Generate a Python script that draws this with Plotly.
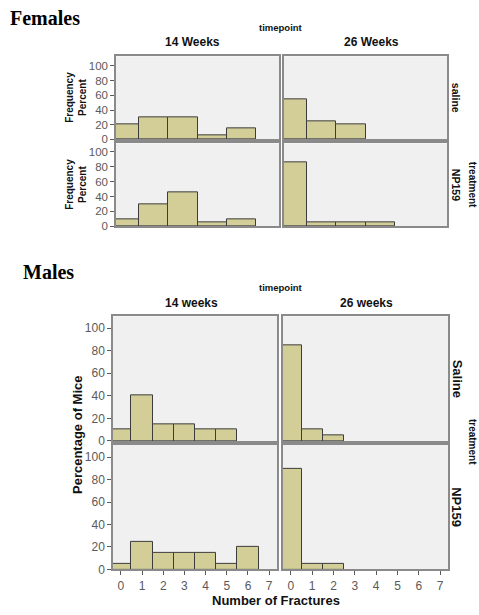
import plotly.graph_objects as go

W, H = 479, 615

# ---------------- data ----------------
fem_bins = [0, 1, 2, 3, 4]
fem_14w_saline = [20, 30, 30, 5, 15]
fem_26w_saline = [55, 25, 20, 0, 0]
fem_14w_np159 = [10, 30, 45, 5, 10]
fem_26w_np159 = [85, 5, 5, 5, 0]

male_bins = [0, 1, 2, 3, 4, 5, 6]
male_14w_saline = [10, 40, 15, 15, 10, 10, 0]
male_26w_saline = [85, 10, 5, 0, 0, 0, 0]
male_14w_np159 = [5, 25, 15, 15, 15, 5, 20]
male_26w_np159 = [90, 5, 5, 0, 0, 0, 0]

fem_cols = ["14 Weeks", "26 Weeks"]
fem_rows = ["saline", "NP159"]
male_cols = ["14 weeks", "26 weeks"]
male_rows = ["Saline", "NP159"]
y_ticks = [0, 20, 40, 60, 80, 100]
x_ticks = [0, 1, 2, 3, 4, 5, 6, 7]

# ---------------- styling ----------------
BAR = "#d3ce97"
EDGE = "#3c3c3c"
BORDER = "#8a8a8a"
TICKC = "#5a5a5a"
SANS = "Liberation Sans, Arial, sans-serif"
SERIF = "Liberation Serif, Times New Roman, serif"


def px_x(v):
    return v / W


def px_y(v):
    return 1 - v / H


fig = go.Figure()

panels = [
    # (values, bins, x px range, y px range, xrange, yrange, show_y, show_x)
    (fem_14w_saline, fem_bins, (116, 279), (57, 141), [-0.3, 5.3], [0, 113], True, False),
    (fem_26w_saline, fem_bins, (284, 447), (57, 141), [-0.3, 5.3], [0, 113], False, False),
    (fem_14w_np159, fem_bins, (116, 279), (145, 229), [-0.3, 5.3], [0, 111], True, False),
    (fem_26w_np159, fem_bins, (284, 447), (145, 229), [-0.3, 5.3], [0, 111], False, False),
    (male_14w_saline, male_bins, (113, 277), (320, 446), [-0.37, 7.37], [0, 110.5], True, False),
    (male_26w_saline, male_bins, (283, 448), (320, 446), [-0.37, 7.37], [0, 110.5], False, False),
    (male_14w_np159, male_bins, (113, 277), (450, 576), [-0.37, 7.37], [0, 111], True, True),
    (male_26w_np159, male_bins, (283, 448), (450, 576), [-0.37, 7.37], [0, 111], False, True),
]

layout_axes = {}
for i, (vals, bins, xr, yr, xrange_, yrange_, show_y, show_x) in enumerate(panels):
    n = i + 1
    xa = "x" if n == 1 else f"x{n}"
    ya = "y" if n == 1 else f"y{n}"
    # empty bins draw nothing (as in the reference)
    bx = [b for b, v in zip(bins, vals) if v > 0]
    by = [v for v in vals if v > 0]
    fig.add_trace(go.Bar(
        x=bx, y=by, width=1,
        marker=dict(color=BAR, line=dict(color=EDGE, width=1)),
        xaxis=xa, yaxis=ya, showlegend=False, hoverinfo="skip",
    ))
    xkey = "xaxis" if n == 1 else f"xaxis{n}"
    ykey = "yaxis" if n == 1 else f"yaxis{n}"
    layout_axes[xkey] = dict(
        domain=[px_x(xr[0]), px_x(xr[1])], anchor=ya, range=xrange_,
        showgrid=False, zeroline=False, showline=True, mirror=True,
        linecolor=BORDER, linewidth=1.5,
        tickvals=x_ticks if show_x else [], ticks="outside" if show_x else "",
        ticklen=4, tickcolor=TICKC, showticklabels=show_x,
        tickfont=dict(family=SANS, size=12, color=TICKC),
        fixedrange=True,
    )
    layout_axes[ykey] = dict(
        domain=[px_y(yr[1]), px_y(yr[0])], anchor=xa, range=yrange_,
        showgrid=False, zeroline=False, showline=True, mirror=True,
        linecolor=BORDER, linewidth=1.5,
        tickvals=y_ticks if show_y else [], ticks="outside" if show_y else "",
        ticklen=4, tickcolor=TICKC, showticklabels=show_y,
        tickfont=dict(family=SANS, size=12 if i >= 4 else 11.5, color=TICKC),
        fixedrange=True,
    )

annotations = []


def ann(text, x, y, size, family=SANS, angle=0, color="#111", xanchor="center"):
    annotations.append(dict(
        text=text, x=px_x(x), y=px_y(y), xref="paper", yref="paper",
        showarrow=False, textangle=angle, xanchor=xanchor, yanchor="middle",
        font=dict(family=family, size=size, color=color),
    ))


# Females
ann("<b>Females</b>", 8, 18, 20, family=SERIF, color="#000", xanchor="left")
ann("<b>timepoint</b>", 281, 28, 9.5)
ann("<b>" + fem_cols[0] + "</b>", 192, 42, 12)
ann("<b>" + fem_cols[1] + "</b>", 371, 42, 12)
ann("<b>Frequency<br>Percent</b>", 76, 99, 10, angle=-90)
ann("<b>Frequency<br>Percent</b>", 76, 187, 10, angle=-90)
ann("<b>" + fem_rows[0] + "</b>", 456, 99, 10.5, angle=90)
ann("<b>" + fem_rows[1] + "</b>", 456, 187, 10.5, angle=90)
ann("<b>treatment</b>", 472, 187, 10, angle=90)

# Males
ann("<b>Males</b>", 21, 275, 20, family=SERIF, color="#000", xanchor="left")
ann("<b>timepoint</b>", 281, 291, 9.5)
ann("<b>" + male_cols[0] + "</b>", 191, 306, 12)
ann("<b>" + male_cols[1] + "</b>", 366, 306, 12)
ann("<b>Percentage of Mice</b>", 78, 440, 13, angle=-90)
ann("<b>" + male_rows[0] + "</b>", 457, 383, 13, angle=90)
ann("<b>" + male_rows[1] + "</b>", 457, 513, 13, angle=90)
ann("<b>treatment</b>", 472, 447, 10, angle=90)
ann("<b>Number of Fractures</b>", 276, 607, 13)

fig.update_layout(
    width=W, height=H,
    margin=dict(l=0, r=0, t=0, b=0),
    paper_bgcolor="white", plot_bgcolor="#f0f0f0",
    bargap=0, annotations=annotations, showlegend=False,
    **layout_axes,
)

fig.write_html(
    "out.html",
    config={"displayModeBar": False},
    post_script="document.body.style.margin='0';document.body.style.overflow='hidden';",
)
